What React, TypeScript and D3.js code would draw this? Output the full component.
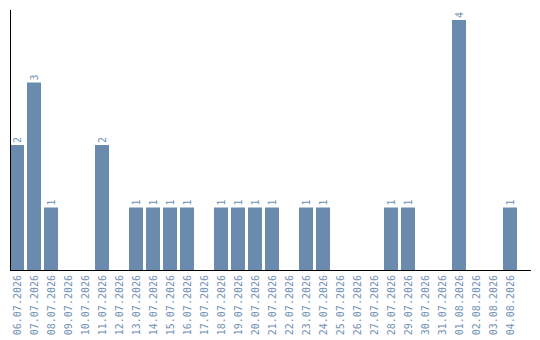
import React from "react";
import * as d3 from "d3";

// Daily counts, one entry per calendar day
const dates = [
  "06.07.2026", "07.07.2026", "08.07.2026", "09.07.2026", "10.07.2026",
  "11.07.2026", "12.07.2026", "13.07.2026", "14.07.2026", "15.07.2026",
  "16.07.2026", "17.07.2026", "18.07.2026", "19.07.2026", "20.07.2026",
  "21.07.2026", "22.07.2026", "23.07.2026", "24.07.2026", "25.07.2026",
  "26.07.2026", "27.07.2026", "28.07.2026", "29.07.2026", "30.07.2026",
  "31.07.2026", "01.08.2026", "02.08.2026", "03.08.2026", "04.08.2026",
];
const counts = [
  2, 3, 1, 0, 0,
  2, 0, 1, 1, 1,
  1, 0, 1, 1, 1,
  1, 0, 1, 1, 0,
  0, 0, 1, 1, 0,
  0, 4, 0, 0, 1,
];

const W = 540;
const H = 340;
const left = 10;
const top = 10;
const baseline = 270;
const barColor = "#6a8bad";
const textColor = "#7090b4";
const font = "'DejaVu Sans Mono', monospace";

export default function App() {
  const x = d3
    .scaleBand<string>()
    .domain(dates)
    .range([left, left + 507])
    .paddingInner(3 / 17)
    .paddingOuter(0);
  const y = d3
    .scaleLinear()
    .domain([0, d3.max(counts) as number])
    .range([baseline, 20]);

  return (
    <svg
      width={W}
      height={H}
      style={{ position: "absolute", left: 0, top: 0, background: "#fff" }}
    >
      {dates.map((d, i) => {
        const v = counts[i];
        if (!v) return null;
        const bx = x(d) as number;
        return (
          <rect
            key={"b" + d}
            x={bx}
            y={y(v)}
            width={x.bandwidth()}
            height={baseline - y(v)}
            fill={barColor}
          />
        );
      })}
      {dates.map((d, i) => {
        const v = counts[i];
        if (!v) return null;
        const cx = (x(d) as number) + x.bandwidth() / 2;
        const ty = y(v) - 2;
        return (
          <text
            key={"v" + d}
            transform={`translate(${cx},${ty}) rotate(-90)`}
            dy="0.35em"
            textAnchor="start"
            fontFamily={font}
            fontSize={10}
            fill={textColor}
          >
            {v}
          </text>
        );
      })}
      {dates.map((d) => {
        const cx = (x(d) as number) + x.bandwidth() / 2;
        return (
          <text
            key={"t" + d}
            transform={`translate(${cx},${baseline + 5}) rotate(-90)`}
            dy="0.35em"
            textAnchor="end"
            fontFamily={font}
            fontSize={10}
            fill={textColor}
          >
            {d}
          </text>
        );
      })}
      <line x1={left + 0.5} x2={left + 0.5} y1={top} y2={baseline} stroke="#000" strokeWidth={1} />
      <line x1={left} x2={531} y1={baseline + 0.5} y2={baseline + 0.5} stroke="#000" strokeWidth={1} />
    </svg>
  );
}
